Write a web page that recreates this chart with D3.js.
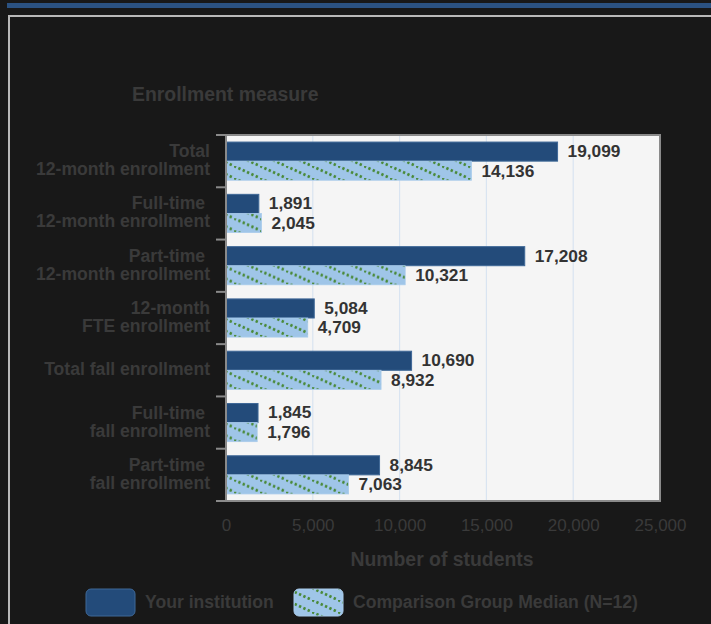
<!DOCTYPE html>
<html>
<head>
<meta charset="utf-8">
<script src="https://cdn.jsdelivr.net/npm/d3@7"></script>
<style>
  html, body { margin: 0; padding: 0; background: #181818; }
  svg { display: block; }
  text { font-family: "Liberation Sans", Arial, sans-serif; }
</style>
</head>
<body>
<svg id="chart" width="711" height="624"></svg>
<script>
const categories = [
  ["Total", "12-month enrollment"],
  ["Full-time ", "12-month enrollment"],
  ["Part-time ", "12-month enrollment"],
  ["12-month", "FTE enrollment"],
  ["Total fall enrollment"],
  ["Full-time ", "fall enrollment"],
  ["Part-time ", "fall enrollment"]
];
const institution = [19099, 1891, 17208, 5084, 10690, 1845, 8845];
const comparison  = [14136, 2045, 10321, 4709, 8932, 1796, 7063];
const xTicks = [0, 5000, 10000, 15000, 20000, 25000];
const seriesNames = ["Your institution", "Comparison Group Median (N=12)"];

(function () {
const svg = d3.select("#chart");
const textColor = "#3a3a3a";
const darkBlue = "#234b7a";
const lightBlue = "#9fc5e8";

// pattern
const defs = svg.append("defs");
const pw = 26, ph = 12;
const pat = defs.append("pattern")
  .attr("id", "hatch").attr("patternUnits", "userSpaceOnUse")
  .attr("width", pw).attr("height", ph);
pat.append("rect").attr("width", pw).attr("height", ph).attr("fill", lightBlue);
const seg = Math.hypot(pw, ph) / 6;
pat.append("line").attr("x1", 0).attr("y1", 0).attr("x2", pw).attr("y2", ph)
  .attr("stroke", "#4a8a3a").attr("stroke-width", 2.8)
  .attr("stroke-dasharray", `${(seg * 0.5).toFixed(3)} ${(seg * 0.5).toFixed(3)}`);

// page frame
svg.append("rect").attr("x", 7).attr("y", 3).attr("width", 704).attr("height", 5).attr("fill", "#2b5282");
svg.append("path").attr("d", "M9,624 V16 H711").attr("fill", "none")
  .attr("stroke", "#b8b8b8").attr("stroke-width", 2);

const pL = 226, pR = 660, pT = 135, pB = 501;

const x = d3.scaleLinear().domain([0, 25000]).range([pL, pR]);
const y = d3.scaleBand().domain(d3.range(categories.length)).range([pT, pB])
  .paddingInner(0.27).paddingOuter(0.135);
const ySub = d3.scaleBand().domain([0, 1]).range([0, y.bandwidth()]);
const yStep = d3.scaleBand().domain(d3.range(categories.length)).range([pT, pB]);

// plot background
svg.append("rect").attr("x", pL).attr("y", pT).attr("width", pR - pL).attr("height", pB - pT)
  .attr("fill", "#f5f5f5");

// grid
svg.append("g").selectAll("line").data(xTicks.slice(1, -1)).join("line")
  .attr("x1", d => x(d)).attr("x2", d => x(d))
  .attr("y1", pT).attr("y2", pB)
  .attr("stroke", "#d9e4f1").attr("stroke-width", 1.2);

// bars
const groups = svg.append("g").selectAll("g").data(categories.map((c, i) => i)).join("g")
  .attr("transform", i => `translate(0,${y(i)})`);

groups.append("rect")
  .attr("x", x(0)).attr("y", ySub(0))
  .attr("width", i => x(institution[i]) - x(0)).attr("height", ySub.bandwidth())
  .attr("fill", darkBlue).attr("stroke", "#3f6897").attr("stroke-width", 1);

groups.append("rect")
  .attr("x", x(0)).attr("y", ySub(1))
  .attr("width", i => x(comparison[i]) - x(0)).attr("height", ySub.bandwidth())
  .attr("fill", "url(#hatch)").attr("stroke", "#a9cbeb").attr("stroke-width", 0.8);

groups.append("text")
  .attr("x", i => x(institution[i]) + 10).attr("y", ySub(0) + ySub.bandwidth() / 2 - 0.5)
  .attr("dy", "0.34em").attr("font-size", 17.3).attr("font-weight", "bold").attr("fill", "#333")
  .text(i => d3.format(",")(institution[i]));

groups.append("text")
  .attr("x", i => x(comparison[i]) + 10).attr("y", ySub(1) + ySub.bandwidth() / 2)
  .attr("dy", "0.34em").attr("font-size", 17.3).attr("font-weight", "bold").attr("fill", "#333")
  .text(i => d3.format(",")(comparison[i]));

// plot border
svg.append("rect").attr("x", pL).attr("y", pT).attr("width", pR - pL).attr("height", pB - pT)
  .attr("fill", "none").attr("stroke", "#8a8a8a").attr("stroke-width", 2);

// left ticks at band boundaries
const bounds = d3.range(categories.length + 1).map(i => i < categories.length ? yStep(i) : pB);
svg.append("g").selectAll("line").data(bounds).join("line")
  .attr("x1", pL - 10).attr("x2", pL).attr("y1", d => d).attr("y2", d => d)
  .attr("stroke", "#8a8a8a").attr("stroke-width", 2);

// category labels
const catG = svg.append("g");
categories.forEach((lines, i) => {
  const cy = yStep(i) + yStep.bandwidth() / 2;
  const t = catG.append("text").attr("x", 210).attr("text-anchor", "end")
    .attr("font-size", 17.6).attr("font-weight", "bold").attr("fill", textColor)
    .style("white-space", "pre");
  if (lines.length === 1) {
    t.append("tspan").attr("x", 210).attr("y", cy + 5).text(lines[0]);
  } else {
    t.append("tspan").attr("x", 210).attr("y", cy - 4).text(lines[0]);
    t.append("tspan").attr("x", 210).attr("y", cy + 14).text(lines[1]);
  }
});

// x axis labels
const xAxis = d3.axisBottom(x).tickValues(xTicks).tickFormat(d3.format(",")).tickSize(0).tickPadding(0);
const ax = svg.append("g").attr("transform", `translate(0,${pB + 18})`).call(xAxis);
ax.select(".domain").remove();
ax.selectAll("text").attr("font-size", 17).attr("fill", textColor)
  .attr("font-family", "'Liberation Sans', Arial, sans-serif");

// titles
svg.append("text").attr("x", 132).attr("y", 101).attr("font-size", 19.4).attr("font-weight", "bold")
  .attr("fill", textColor).text("Enrollment measure");
svg.append("text").attr("x", (pL + pR) / 2 - 1).attr("y", 566).attr("text-anchor", "middle")
  .attr("font-size", 19.4).attr("font-weight", "bold").attr("fill", textColor).text("Number of students");

// legend
const legend = [
  { x: 86, fill: darkBlue, stroke: "#3f6897", tx: 145 },
  { x: 294, fill: "url(#hatch)", stroke: "#a9cbeb", tx: 353 }
];
legend.forEach((l, i) => {
  svg.append("rect").attr("x", l.x).attr("y", 589).attr("width", 49).attr("height", 27)
    .attr("rx", 5).attr("fill", l.fill).attr("stroke", l.stroke).attr("stroke-width", 1);
  svg.append("text").attr("x", l.tx).attr("y", 608).attr("font-size", 17.6).attr("font-weight", "bold")
    .attr("fill", textColor).text(seriesNames[i]);
});
})();
</script>
</body>
</html>
